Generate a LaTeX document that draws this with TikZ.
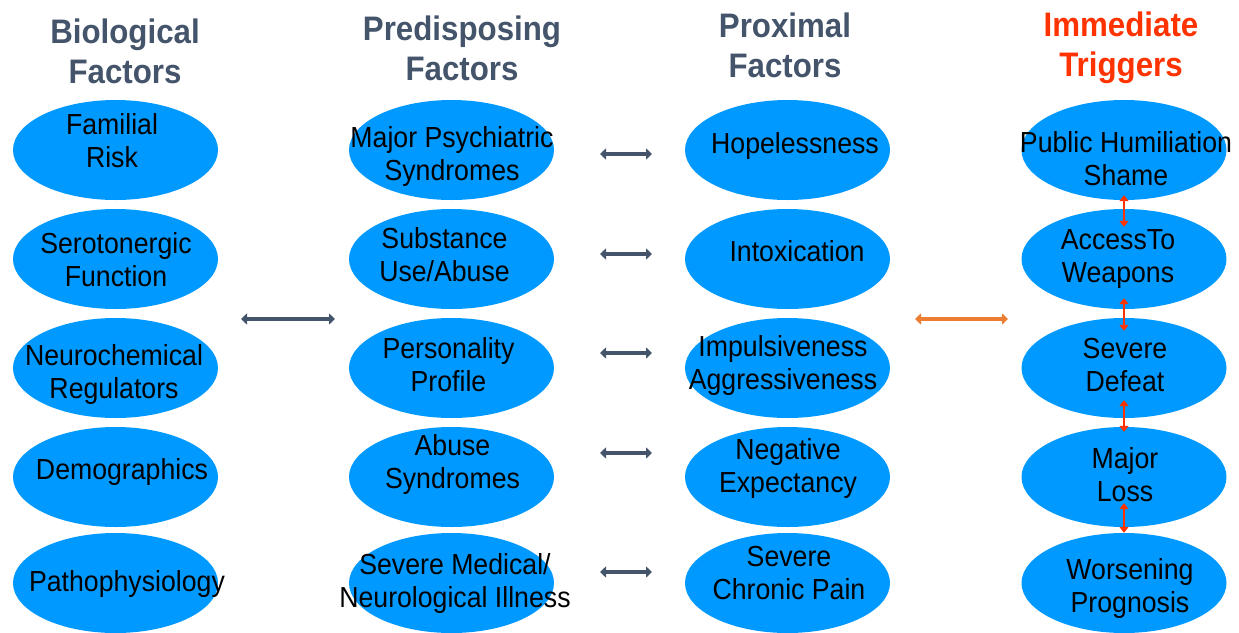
\documentclass[tikz,border=0pt]{standalone}
\usepackage{fontspec}
\setmainfont{Liberation Sans}
\newfontfamily\bodyfont[FakeStretch=0.92]{Liberation Sans}
\usetikzlibrary{shapes.geometric,arrows.meta}
\definecolor{ellblue}{RGB}{0,153,255}
\definecolor{slate}{RGB}{68,84,106}
\definecolor{trigred}{RGB}{255,51,0}
\definecolor{arrorange}{RGB}{237,125,49}
\tikzset{
  ell/.style={ellipse, fill=ellblue, minimum width=205pt, minimum height=100pt, inner sep=0pt},
  lbl/.style={align=center, inner sep=0pt, text=black, font=\bodyfont\fontsize{29}{33}\selectfont},
  head/.style={align=center, inner sep=0pt, text=slate, font=\bodyfont\bfseries\fontsize{34}{40}\selectfont},
  slatearr/.style={draw=slate, line width=3.2pt, {Triangle[length=6pt,width=11pt]}-{Triangle[length=6pt,width=11pt]}},
  orangearr/.style={draw=arrorange, line width=3.2pt, {Triangle[length=6pt,width=11pt]}-{Triangle[length=6pt,width=11pt]}},
  redarr/.style={draw=trigred, line width=2pt, {Triangle[length=6pt,width=9pt]}-{Triangle[length=6pt,width=9pt]}}
}
\begin{document}
\begin{tikzpicture}[x=1pt,y=-1pt]
\useasboundingbox (0,0) rectangle (1239,632);
% headers
\node[head] (h1) at (125,51) {Biological\\Factors};
\node[head] (h2) at (462,48) {Predisposing\\Factors};
\node[head] (h3) at (785,45.5) {Proximal\\Factors};
\node[head, text=trigred] (h4) at (1121,48) {Immediate\\Triggers};
% ellipses
\foreach \c/\x in {b/115.5, p/451.5, x/787.5, t/1124}{
  \foreach \r/\y in {1/150, 2/259, 3/368, 4/477, 5/583}{
    \node[ell] (\c\r) at (\x,\y) {};
  }
}
% labels
\node[lbl] (lb1) at (112,141) {Familial\\Risk};
\node[lbl] (lb2) at (116,259.5) {Serotonergic\\Function};
\node[lbl] (lb3) at (114,374) {Neurochemical\\Regulators};
\node[lbl] (lb4) at (122,472) {Demographics};
\node[lbl] (lb5) at (127,584) {Pathophysiology};
\node[lbl] (lp1) at (452,156) {Major Psychiatric\\Syndromes};
\node[lbl] (lp2) at (444.5,254.5) {Substance\\Use/Abuse};
\node[lbl] (lp3) at (448.5,365) {Personality\\Profile};
\node[lbl] (lp4) at (452.5,464) {Abuse\\Syndromes};
\node[lbl] (lp5) at (455,583) {Severe Medical/\\Neurological Illness};
\node[lbl] (lx1) at (795,145.5) {Hopelessness};
\node[lbl] (lx2) at (797,251) {Intoxication};
\node[lbl] (lx3) at (783,365) {Impulsiveness\\Aggressiveness};
\node[lbl] (lx4) at (788,468) {Negative\\Expectancy};
\node[lbl] (lx5) at (789,573) {Severe\\Chronic Pain};
\node[lbl] (lt1) at (1126,159) {Public Humiliation\\Shame};
\node[lbl] (lt2) at (1118,259) {AccessTo\\Weapons};
\node[lbl] (lt3) at (1125,365) {Severe\\Defeat};
\node[lbl] (lt4) at (1125,474.5) {Major\\Loss};
\node[lbl] (lt5) at (1130,588) {Worsening\\Prognosis};
% arrow end coordinates
\coordinate (bioR) at (241,319);
\coordinate (preL) at (335,319);
\coordinate (proR) at (915,319);
\coordinate (trgL) at (1008,319);
\foreach \i/\y in {1/154, 2/254, 3/353, 4/453, 5/572}{
  \coordinate (m\i l) at (600,\y);
  \coordinate (m\i r) at (652,\y);
}
% connectors
\draw[slatearr] (bioR) -- (preL);
\foreach \i in {1,...,5}{ \draw[slatearr] (m\i l) -- (m\i r); }
\draw[orangearr] (proR) -- (trgL);
\draw[redarr] ([yshift=5pt]t1.south) -- ([yshift=-18pt]t2.north);
\draw[redarr] ([yshift=11pt]t2.south) -- ([yshift=-13pt]t3.north);
\draw[redarr] ([yshift=18pt]t3.south) -- ([yshift=-5pt]t4.north);
\draw[redarr] ([yshift=24pt]t4.south) -- ([yshift=0pt]t5.north);
\end{tikzpicture}
\end{document}
